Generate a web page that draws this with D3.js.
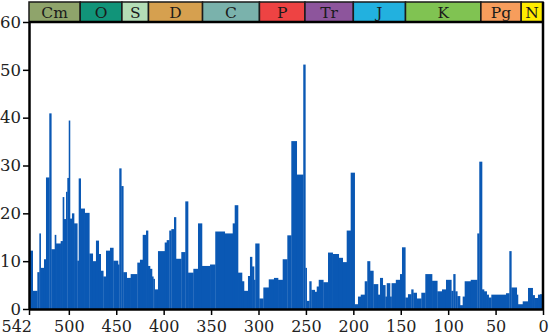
<!DOCTYPE html>
<html>
<head>
<meta charset="utf-8">
<script src="https://cdn.jsdelivr.net/npm/d3@7"></script>
<style>
  body { margin: 0; background: #fff; }
  svg text { font-family: "DejaVu Serif", serif; }
</style>
</head>
<body>
<div id="chart"></div>
<script>
// start age (Ma) of each interval, the interval ends where the next one starts
const ageStart = [
  542, 538.1, 533.2, 531.1, 529.7, 526.2, 524.1, 520.6, 518.5, 514.9,
  513.5, 508.6, 506.5, 505.1, 503.0, 501.6, 500.1, 498.8, 496.7, 494.5,
  491.1, 489.6, 487.5, 483.3, 478.4, 474.8, 471.4, 468.5, 466.4, 463.7,
  460.8, 456.6, 453.1, 448.2, 446.8, 444.7, 442.6, 439.0, 434.8, 427.8,
  425.0, 422.1, 418.6, 416.5, 414.4, 412.3, 410.9, 409.5, 406.0, 398.9,
  396.8, 394.1, 391.9, 389.1, 387.0, 381.4, 377.2, 374.3, 368.7, 363.8,
  359.6, 351.1, 345.6, 335.6, 327.2, 325.1, 321.6, 317.4, 315.3, 311.1,
  309.0, 306.8, 304.7, 303.4, 299.2, 294.9, 289.2, 283.7, 279.4, 274.5,
  269.6, 265.4, 259.7, 252.8, 250.6, 249.2, 246.4, 244.3, 240.7, 238.6,
  236.5, 231.7, 226.7, 221.8, 215.4, 211.2, 207.0, 202.8, 198.6, 195.1,
  192.2, 188.0, 185.3, 182.4, 178.9, 174.0, 171.9, 169.0, 166.3, 164.8,
  161.3, 159.7, 155.2, 150.8, 148.7, 145.2, 142.4, 138.9, 136.8, 133.2,
  128.3, 124.1, 117.0, 111.5, 106.5, 102.3, 96.7, 94.6, 92.5, 90.4,
  87.5, 84.7, 82.6, 76.2, 69.3, 67.2, 64.3, 62.2, 59.4, 57.3,
  54.5, 39.0, 35.5, 33.4, 27.7, 26.4, 21.4, 15.8, 10.9, 8.8,
  5.3, 3.2
];

// extinction intensity (%)
const intensity = [
  12.2, 3.8, 7.7, 15.8, 8.6, 10.4, 27.5, 40.9, 12.5, 15.5,
  13.7, 14.2, 23.4, 18.8, 24.5, 27.4, 39.4, 18.9, 20.0, 17.9,
  10.1, 27.3, 21.0, 20.1, 11.6, 10.0, 14.3, 11.5, 8.0, 6.8,
  12.2, 12.8, 10.1, 9.3, 29.4, 25.7, 7.7, 6.5, 7.3, 9.7,
  10.3, 15.5, 16.4, 9.0, 8.4, 6.8, 6.3, 4.1, 12.1, 13.9,
  14.4, 16.4, 16.7, 19.2, 10.5, 11.9, 22.5, 7.6, 8.4, 17.9,
  9.0, 9.3, 16.2, 15.8, 17.9, 21.7, 7.6, 5.8, 3.8, 6.9,
  10.9, 8.9, 6.1, 13.7, 2.2, 4.5, 6.2, 6.5, 6.1, 10.4,
  15.4, 35.1, 28.1, 51.1, 8.6, 1.7, 5.8, 4.0, 3.6, 4.7,
  6.1, 5.6, 11.8, 11.5, 10.7, 9.8, 16.4, 28.5, 1.0, 2.6,
  3.0, 5.8, 10.0, 8.0, 5.2, 3.0, 6.5, 5.0, 2.6, 5.4,
  2.6, 5.4, 6.1, 7.3, 12.9, 2.4, 3.1, 4.1, 3.4, 2.2,
  3.4, 7.3, 5.9, 3.7, 4.1, 6.1, 3.8, 7.3, 3.7, 2.7,
  0.8, 2.6, 5.8, 6.1, 15.8, 30.8, 4.1, 3.7, 3.0, 2.4,
  3.0, 3.3, 12.1, 4.5, 3.0, 1.0, 1.6, 4.4, 2.9, 2.3,
  3.0, 3.1
];

// geologic periods
const periodNames = ["Cm", "O", "S", "D", "C", "P", "Tr", "J", "K", "Pg", "N"];
const periodStart = [542, 488, 444, 416, 359, 299, 251, 200, 145, 65.5, 23];
const periodEnd   = [488, 444, 416, 359, 299, 251, 200, 145, 65.5, 23, 0];
const periodColors = ["#8fa46b", "#119479", "#b4ddb6", "#d6a04f", "#7ab2ac",
                      "#ee4343", "#8d559c", "#22b1df", "#80c352", "#f79d5c", "#ffec00"];

const xTicks = [542, 500, 450, 400, 350, 300, 250, 200, 150, 100, 50, 0];
const yTicks = [0, 10, 20, 30, 40, 50, 60];

const width = 550, height = 336;
const plotLeft = 29, plotRight = 543, plotTop = 22, plotBottom = 309, bandTop = 2;

const svg = d3.select("#chart").append("svg")
  .attr("width", width)
  .attr("height", height);

const x = d3.scaleLinear().domain([542, 0]).range([plotLeft, plotRight]);
const y = d3.scaleLinear().domain([0, 60]).range([plotBottom, plotTop]);

const bars = ageStart.map((a, i) => ({
  start: a,
  end: i + 1 < ageStart.length ? ageStart[i + 1] : 0,
  value: intensity[i]
}));

svg.append("g")
  .selectAll("rect")
  .data(bars)
  .enter().append("rect")
  .attr("x", d => x(d.start))
  .attr("width", d => x(d.end) - x(d.start) + 0.3)
  .attr("y", d => y(d.value))
  .attr("height", d => y(0) - y(d.value))
  .attr("fill", "#0a58b4");

// period band
const periods = periodNames.map((n, i) => ({
  name: n, start: periodStart[i], end: periodEnd[i], color: periodColors[i]
}));

const band = svg.append("g");
band.selectAll("rect")
  .data(periods)
  .enter().append("rect")
  .attr("x", d => x(d.start))
  .attr("width", d => x(d.end) - x(d.start))
  .attr("y", bandTop)
  .attr("height", plotTop - bandTop)
  .attr("fill", d => d.color)
  .attr("stroke", "#1a1a1a")
  .attr("stroke-width", 1.5);

band.selectAll("text")
  .data(periods)
  .enter().append("text")
  .attr("x", d => (x(d.start) + x(d.end)) / 2)
  .attr("y", 18)
  .attr("text-anchor", "middle")
  .attr("font-size", 15.5)
  .attr("fill", "#1a1a1a")
  .text(d => d.name);

// frame: line under the band and right edge
svg.append("line")
  .attr("x1", plotLeft).attr("x2", plotRight)
  .attr("y1", plotTop).attr("y2", plotTop)
  .attr("stroke", "#000").attr("stroke-width", 2.5);
svg.append("line")
  .attr("x1", plotRight).attr("x2", plotRight)
  .attr("y1", bandTop).attr("y2", plotBottom)
  .attr("stroke", "#000").attr("stroke-width", 2.5);

// axes
const xAxis = svg.append("g")
  .attr("transform", `translate(0,${plotBottom})`)
  .call(d3.axisBottom(x).tickValues(xTicks).tickSize(6).tickPadding(6).tickSizeOuter(0));
xAxis.selectAll("text")
  .attr("font-size", 16)
  .attr("fill", "#222")
  .attr("font-family", "DejaVu Serif, serif")
  .attr("text-anchor", d => d === 542 ? "start" : "middle")
  .attr("dx", d => d === 542 ? -28 : 0);

const yAxis = svg.append("g")
  .attr("transform", `translate(${plotLeft},0)`)
  .call(d3.axisLeft(y).tickValues(yTicks).tickSize(6).tickPadding(2).tickSizeOuter(0));
yAxis.selectAll("text")
  .attr("font-size", 16.5)
  .attr("fill", "#222")
  .attr("font-family", "DejaVu Serif, serif");

svg.selectAll(".domain").attr("stroke", "#000").attr("stroke-width", 2.5);
svg.selectAll(".tick line").attr("stroke", "#000").attr("stroke-width", 1.5);
</script>
</body>
</html>
